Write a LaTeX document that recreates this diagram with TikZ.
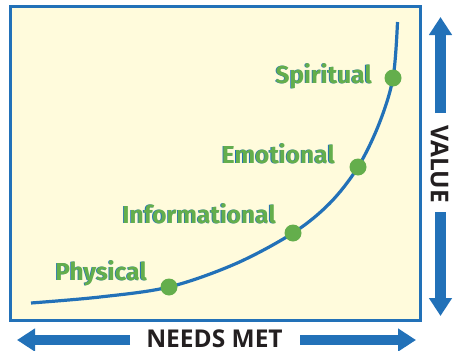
\documentclass[tikz,border=0pt]{standalone}
\usepackage{fontspec}
\usetikzlibrary{arrows.meta}
\newfontfamily\labfont{Fira Sans}
\newfontfamily\axfont{Open Sans}
\definecolor{bblue}{HTML}{2271B8}
\definecolor{cream}{HTML}{FFFBDC}
\definecolor{dgreen}{HTML}{64AE4C}
\definecolor{axtext}{HTML}{231F20}
\tikzset{
  dot/.style={circle, fill=dgreen, inner sep=0pt, minimum size=17pt},
  lab/.style={text=dgreen, font=\labfont\bfseries\fontsize{24.5}{24.5}\selectfont, inner sep=0pt, anchor=base east},
  labshadow/.style={lab, text=bblue},
  axis/.style={text=axtext, font=\axfont\bfseries\fontsize{24.5}{24.5}\selectfont, inner sep=0pt},
  bigarrow/.style={draw=bblue, line width=10.5pt, -{Triangle[width=22pt,length=18pt]}},
}
\begin{document}
\begin{tikzpicture}[x=1pt,y=-1pt]
\useasboundingbox (0,0) rectangle (453,351);
\draw[bblue, line width=2.6pt, fill=cream] (10.5,6.5) rectangle (420.5,320.5);
% curve
\coordinate (c0) at (31,303);
\coordinate (p1) at (169,287);
\coordinate (p2) at (293,233);
\coordinate (p3) at (358,167);
\coordinate (p4) at (393,78);
\coordinate (c5) at (397.5,22);
\draw[bblue, line width=3.2pt] plot[smooth, tension=0.55] coordinates {(c0) (100,297) (p1) (235,264) (p2) (330,203) (p3) (379,124) (p4) (c5)};
\node[dot] (d1) at (p1) {};
\node[dot] (d2) at (p2) {};
\node[dot] (d3) at (p3) {};
\node[dot] (d4) at (p4) {};
% labels
\foreach \t/\x/\y in {Physical/147/280, Informational/276/223, Emotional/335/163, Spiritual/372/83}{
  \node[labshadow] at (\x-0.8,\y+0.8) {\t};
}
\node[lab] (l1) at (147,280) {Physical};
\node[lab] (l2) at (276,223) {Informational};
\node[lab] (l3) at (335,163) {Emotional};
\node[lab] (l4) at (372,83) {Spiritual};
% axes
\node[axis] (nm) at (214.5,339) {NEEDS MET};
\node[axis, rotate=-90] (val) at (439.5,164) {VALUE};
\coordinate (lt) at (17,340);
\coordinate (rt) at (416,340);
\coordinate (ut) at (440.5,17);
\coordinate (dt) at (440.5,316);
\draw[bigarrow] (130,340) -- (lt);
\draw[bigarrow] (300,340) -- (rt);
\draw[bigarrow] (440.5,113) -- (ut);
\draw[bigarrow] (440.5,212) -- (dt);
\end{tikzpicture}
\end{document}
